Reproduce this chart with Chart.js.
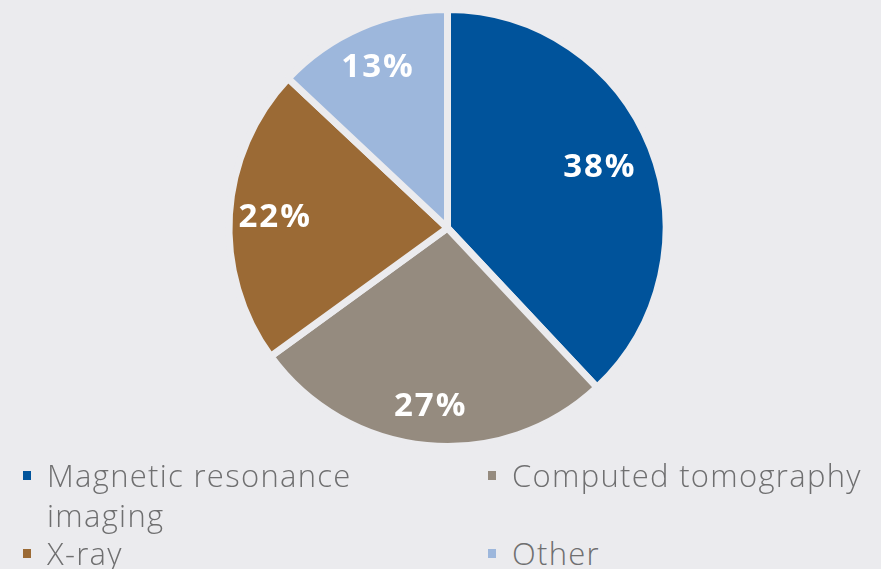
<!DOCTYPE html>
<html>
<head>
<meta charset="utf-8">
<script src="https://cdn.jsdelivr.net/npm/chart.js@4"></script>
<style>
  html, body { margin: 0; padding: 0; background: #ebebee; }
  body { width: 881px; height: 569px; overflow: hidden; position: relative; }
  #wrap { position: absolute; left: 0; top: 0; width: 881px; height: 456px; }
  #legend {
    position: absolute; left: 0; top: 456px; width: 881px;
    font-family: "Open Sans", sans-serif; font-weight: 300; font-size: 31px;
    letter-spacing: 1.3px; color: #6f6f70; line-height: 40px;
  }
  .item { position: absolute; width: 360px; }
  .item .box { position: absolute; left: -24px; top: 16px; width: 8px; height: 9px; }
</style>
</head>
<body>
<div id="wrap"><canvas id="pie"></canvas></div>
<div id="legend"></div>
<script>
// Share of imaging modality
const labels = ['Magnetic resonance imaging', 'Computed tomography', 'X-ray', 'Other'];
const shares = [38, 27, 22, 13];
const colors = ['#00539b', '#958b7f', '#9b6a35', '#9db7dc'];

// where each percentage sits, as a fraction of the radius
const labelRadius = [0.75, 0.82, 0.79, 0.8];
// legend slots: [left, top] of each entry's text
const legendSlots = [[47, -1], [512, -1], [47, 77], [512, 77]];

const sliceLabels = {
    id: 'sliceLabels',
    afterDatasetsDraw(chart) {
        const ctx = chart.ctx;
        const meta = chart.getDatasetMeta(0);
        ctx.save();
        ctx.fillStyle = '#ffffff';
        ctx.font = 'bold 33px "Open Sans", sans-serif';
        ctx.letterSpacing = '2px';
        ctx.textAlign = 'center';
        ctx.textBaseline = 'middle';
        meta.data.forEach((arc, i) => {
            const mid = (arc.startAngle + arc.endAngle) / 2;
            const r = arc.outerRadius * labelRadius[i];
            ctx.fillText(shares[i] + '%', arc.x + Math.cos(mid) * r, arc.y + Math.sin(mid) * r);
        });
        ctx.restore();
    }
};

new Chart(document.getElementById('pie'), {
    type: 'pie',
    data: {
        labels: labels,
        datasets: [{
            data: shares,
            backgroundColor: colors,
            borderColor: '#ebebee',
            borderWidth: 7
        }]
    },
    options: {
        responsive: true,
        maintainAspectRatio: false,
        animation: false,
        layout: { padding: { left: 14, right: 0, top: 6, bottom: 6 } },
        plugins: {
            legend: { display: false },
            tooltip: { enabled: false }
        }
    },
    plugins: [sliceLabels]
});

// HTML legend in two columns
const legend = document.getElementById('legend');
labels.forEach((name, i) => {
    const el = document.createElement('div');
    el.className = 'item';
    el.style.left = legendSlots[i][0] + 'px';
    el.style.top = legendSlots[i][1] + 'px';
    el.innerHTML = '<span class="box" style="background:' + colors[i] + '"></span>' + name;
    legend.appendChild(el);
});
</script>
</body>
</html>
